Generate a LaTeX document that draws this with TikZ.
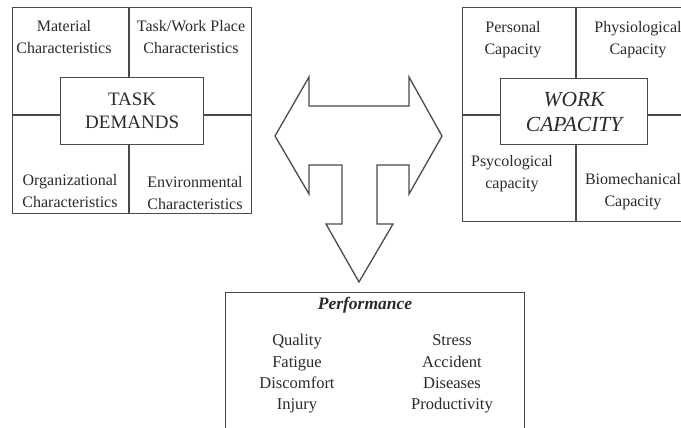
\documentclass[tikz,border=0pt]{standalone}
\usepackage{fontspec}
\setmainfont{Liberation Serif}
\definecolor{ink}{HTML}{2A2A2A}
\definecolor{edge}{HTML}{4A4A4A}
\tikzset{
  frame/.style={draw=edge, line width=1.3pt, rectangle, inner sep=0pt, anchor=north west},
  core/.style={draw=edge, line width=1.3pt, fill=white, rectangle, inner sep=0pt, anchor=north west},
  lbl/.style={text=ink, font=\fontsize{16}{22}\selectfont, align=center, inner sep=0pt},
  big/.style={text=ink, font=\fontsize{19}{23}\selectfont, align=center, inner sep=0pt},
  divline/.style={draw=edge, line width=1.3pt},
}
\begin{document}
\begin{tikzpicture}[x=1pt,y=-1pt]
\clip (0,0) rectangle (681,428);
\fill[white] (0,0) rectangle (681,428);
% left block
\node[frame, minimum width=239pt, minimum height=206pt] (L) at (12,7) {};
\coordinate (Ltop) at (129,7);
\coordinate (Lbot) at (129,213);
\coordinate (Lleft) at (12,115);
\coordinate (Lright) at (251,115);
\node[core, minimum width=143pt, minimum height=67pt] (LC) at (60,77) {};
\draw[divline] (Ltop) -- (Ltop |- LC.north);
\draw[divline] (Lbot) -- (Lbot |- LC.south);
\draw[divline] (Lleft) -- (LC.west |- Lleft);
\draw[divline] (Lright) -- (LC.east |- Lright);
\node[big] (LCt) at (LC.center) {TASK\\DEMANDS};
\node[lbl] (l1) at (64,37) {Material\\Characteristics};
\node[lbl] (l2) at (191,37) {Task/Work Place\\Characteristics};
\node[lbl] (l3) at (70,191) {Organizational\\Characteristics};
\node[lbl] (l4) at (195,193) {Environmental\\Characteristics};
% right block
\node[frame, minimum width=230pt, minimum height=214pt] (R) at (462,7) {};
\coordinate (Rtop) at (576,7);
\coordinate (Rbot) at (576,221);
\coordinate (Rleft) at (462,115);
\coordinate (Rright) at (692,115);
\node[core, minimum width=147pt, minimum height=66pt] (RC) at (500,78) {};
\draw[divline] (Rtop) -- (Rtop |- RC.north);
\draw[divline] (Rbot) -- (Rbot |- RC.south);
\draw[divline] (Rleft) -- (RC.west |- Rleft);
\draw[divline] (Rright) -- (RC.east |- Rright);
\node[big, font=\fontsize{21.5}{25}\selectfont\itshape] (RCt) at (RC.center) {WORK\\CAPACITY};
\node[lbl] (r1) at (513,40) {Personal\\Capacity};
\node[lbl] (r2) at (638,40) {Physiological\\Capacity};
\node[lbl] (r3) at (512,174) {Psycological\\capacity};
\node[lbl] (r4) at (633,192) {Biomechanical\\Capacity};
% arrow
\draw[draw=edge, line width=1.3pt, fill=white, line join=miter]
  (275,136) -- (309,77) -- (309,106) -- (409,106) -- (409,77) -- (442,136)
  -- (409,194) -- (409,165) -- (377,165) -- (377,224) -- (393,224) -- (359,282)
  -- (326,224) -- (342,224) -- (342,165) -- (309,165) -- (309,194) -- cycle;
% performance
\node[frame, minimum width=299pt, minimum height=145pt] (P) at (225,292) {};
\node[lbl, font=\fontsize{17.5}{21}\selectfont\bfseries\itshape] (Pt) at (365,305) {Performance};
\node[lbl, font=\fontsize{16.5}{21.3}\selectfont] (Pa) at (297,374) {Quality\\Fatigue\\Discomfort\\Injury};
\node[lbl, font=\fontsize{16.5}{21.3}\selectfont] (Pb) at (452,374) {Stress\\Accident\\Diseases\\Productivity};
\end{tikzpicture}
\end{document}
